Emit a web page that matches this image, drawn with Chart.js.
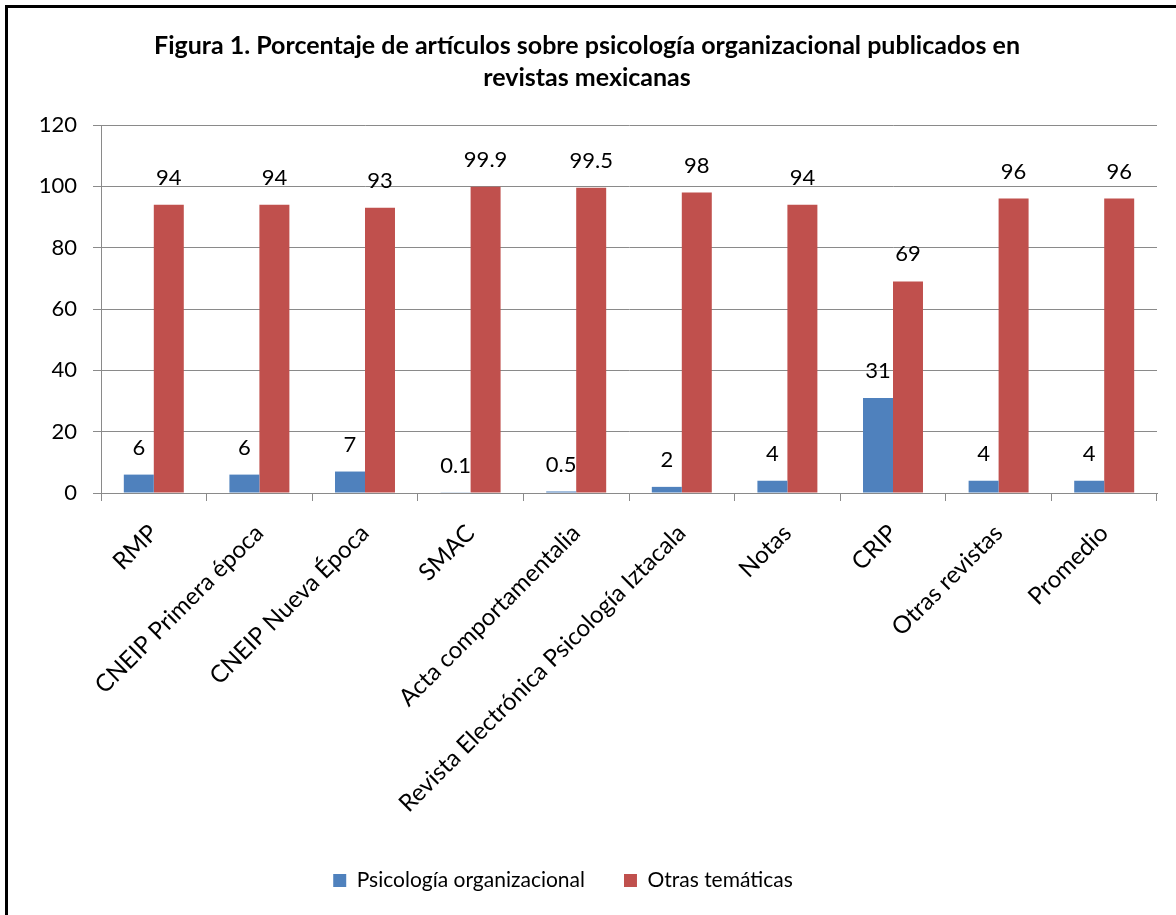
<!DOCTYPE html>
<html>
<head>
<meta charset="utf-8">
<script src="https://cdn.jsdelivr.net/npm/chart.js@4/dist/chart.umd.min.js"></script>
<style>
  html, body { margin: 0; padding: 0; background: #fff; }
  #wrap { position: relative; width: 1176px; height: 915px; overflow: hidden; background: #fff; }
  #frame { position: absolute; left: 5px; top: 5px; width: 1300px; height: 1000px; border-left: 3px solid #000; border-top: 3px solid #000; box-sizing: border-box; }
  canvas { position: absolute; left: 0; top: 0; }
</style>
</head>
<body>
<div id="wrap">
  <div id="frame"></div>
  <canvas id="c" width="1176" height="915"></canvas>
</div>
<script>
const categories = ["RMP", "CNEIP Primera época", "CNEIP Nueva Época", "SMAC", "Acta comportamentalia", "Revista Electrónica Psicología Iztacala", "Notas", "CRIP", "Otras revistas", "Promedio"];
const psicologia = [6, 6, 7, 0.1, 0.5, 2, 4, 31, 4, 4];
const otras = [94, 94, 93, 99.9, 99.5, 98, 94, 69, 96, 96];
const seriesNames = ["Psicología organizacional", "Otras temáticas"];
const titleLines = ["Figura 1. Porcentaje de artículos sobre psicología organizacional publicados en", "revistas mexicanas"];
const yMin = 0, yMax = 120, yStep = 20;

const FONT = "Lato, 'Open Sans', sans-serif";
const GRID = "#8a8a8a";

const labelPlugin = {
  id: "valueLabels",
  afterDatasetsDraw(chart) {
    const ctx = chart.ctx;
    ctx.save();
    ctx.fillStyle = "#000";
    ctx.font = "22px " + FONT;
    ctx.textAlign = "center";
    ctx.textBaseline = "middle";
    chart.data.datasets.forEach((ds, i) => {
      const meta = chart.getDatasetMeta(i);
      meta.data.forEach((el, j) => {
        ctx.fillText(String(ds.data[j]), el.x, el.y - 27);
      });
    });
    ctx.restore();
  }
};

const legendShift = {
  id: "legendShift",
  afterLayout(chart) {
    if (chart.legend) chart.legend.right -= 48;
  }
};

new Chart(document.getElementById("c"), {
  type: "bar",
  data: {
    labels: categories,
    datasets: [
      { label: seriesNames[0], data: psicologia, backgroundColor: "#4F81BD", categoryPercentage: 0.568, barPercentage: 1 },
      { label: seriesNames[1], data: otras, backgroundColor: "#C0504D", categoryPercentage: 0.568, barPercentage: 1 }
    ]
  },
  options: {
    responsive: false,
    animation: false,
    devicePixelRatio: 1,
    layout: { padding: { left: 17, right: 19, top: 0, bottom: 14 } },
    plugins: {
      title: {
        display: true,
        text: titleLines,
        color: "#000",
        font: { family: FONT, size: 25, weight: "bold", lineHeight: 1.28 },
        padding: { top: 30, bottom: 31 }
      },
      legend: {
        display: true,
        position: "bottom",
        labels: {
          color: "#000",
          font: { family: FONT, size: 21 },
          boxWidth: 13,
          boxHeight: 13,
          padding: 39
        }
      },
      tooltip: { enabled: false }
    },
    scales: {
      x: {
        afterFit(s) { s.height = 338; },
        grid: { display: true, drawOnChartArea: false, drawTicks: true, tickLength: 8, color: GRID },
        border: { display: true, color: GRID },
        ticks: { color: "#000", font: { family: FONT, size: 24 }, minRotation: 45, maxRotation: 45, autoSkip: false, padding: 18 }
      },
      y: {
        min: yMin, max: yMax,
        afterFit(s) { s.width = 84; },
        grid: { color: GRID, tickLength: 8 },
        border: { display: true, color: GRID },
        ticks: { stepSize: yStep, color: "#000", font: { family: FONT, size: 22 }, padding: 16 }
      }
    }
  },
  plugins: [labelPlugin, legendShift]
});
</script>
</body>
</html>
